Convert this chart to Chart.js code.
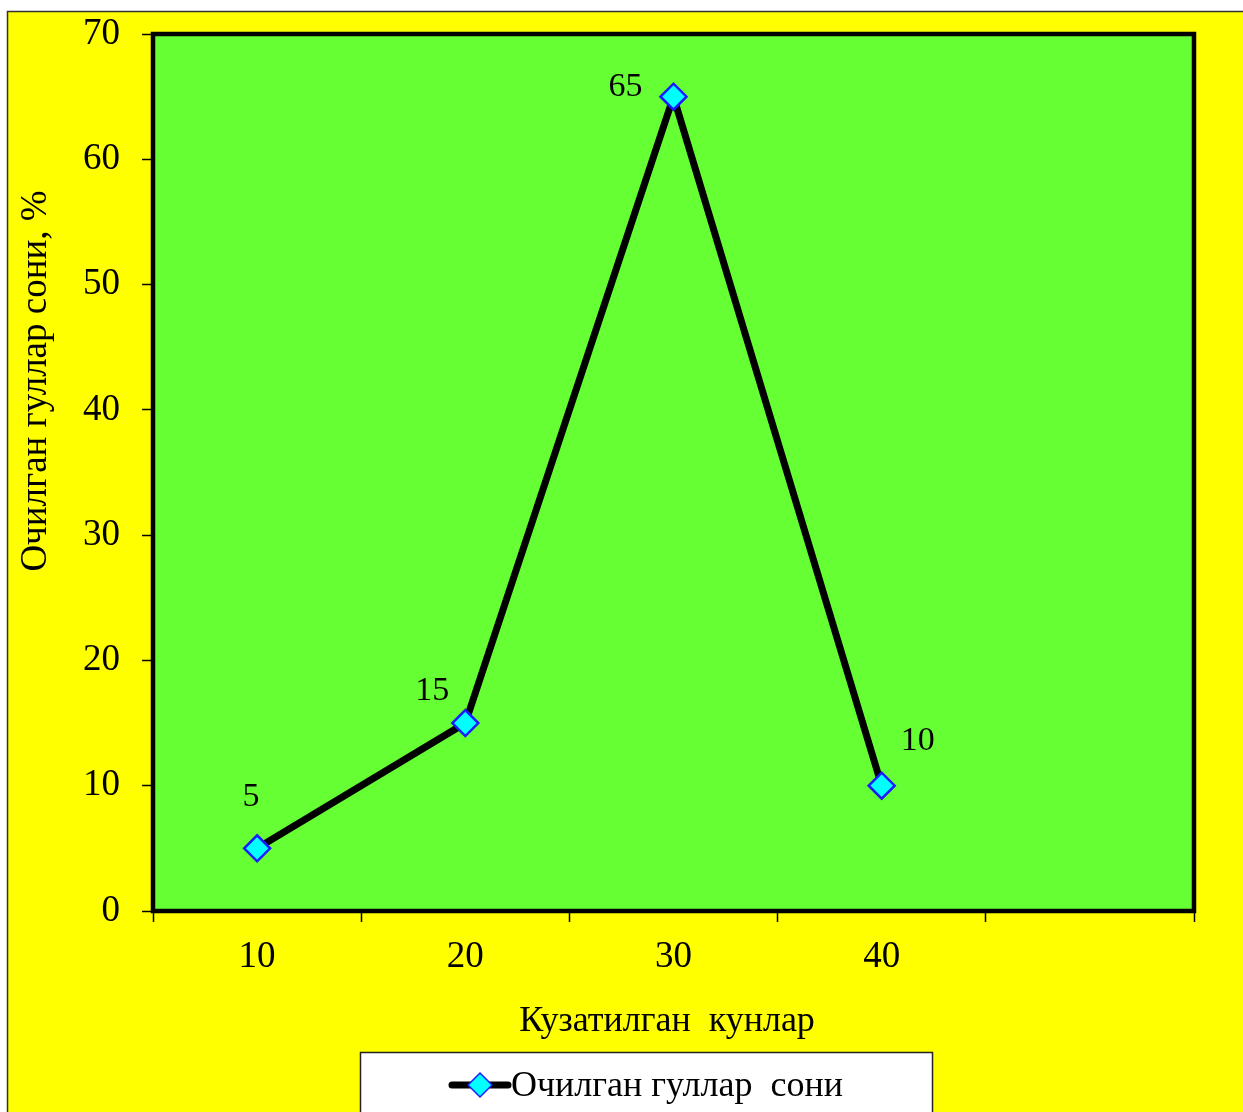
<!DOCTYPE html>
<html>
<head>
<meta charset="utf-8">
<script src="https://cdn.jsdelivr.net/npm/chart.js@4/dist/chart.umd.min.js"></script>
<style>
  html, body { margin: 0; padding: 0; background: #ffffff; }
  canvas { display: block; }
</style>
</head>
<body>
<canvas id="chart" width="1243" height="1112"></canvas>
<script>
// Observation days (the last slot is left empty on purpose)
const days = ['10', '20', '30', '40', ''];
// Share of opened flowers, %
const openedFlowers = [5, 15, 65, 10, null];
const seriesName = 'Очилган гуллар  сони';
const xTitle = 'Кузатилган  кунлар';
const yTitle = 'Очилган гуллар сони, %';
const yTicks = { min: 0, max: 70, step: 10 };

const SERIF = '"Liberation Serif", "Times New Roman", serif';
const YELLOW = '#FFFF00';
const GREEN = '#66FF33';

// where each value label sits relative to its point
const labelOffsets = [[-6, -51], [-33, -32], [-48, -10], [36, -45]];

const backdrop = {
  id: 'backdrop',
  beforeDraw(chart) {
    const { ctx, width, height, chartArea: a } = chart;
    ctx.save();
    ctx.fillStyle = '#ffffff';
    ctx.fillRect(0, 0, width, height);
    ctx.fillStyle = YELLOW;
    ctx.fillRect(7, 11, width - 7, height - 11);
    ctx.strokeStyle = '#333333';
    ctx.lineWidth = 1.5;
    ctx.beginPath();
    ctx.moveTo(7.5, height);
    ctx.lineTo(7.5, 11.5);
    ctx.lineTo(width, 11.5);
    ctx.stroke();
    ctx.fillStyle = GREEN;
    ctx.fillRect(a.left, a.top, a.right - a.left, a.bottom - a.top);
    ctx.restore();
  },
  beforeDatasetsDraw(chart) {
    const { ctx, chartArea: a } = chart;
    ctx.save();
    ctx.strokeStyle = '#000000';
    ctx.lineWidth = 4.5;
    ctx.strokeRect(a.left, a.top, a.right - a.left, a.bottom - a.top);
    ctx.restore();
  }
};

const extras = {
  id: 'extras',
  afterDraw(chart) {
    const { ctx } = chart;
    ctx.save();
    // value labels
    const meta = chart.getDatasetMeta(0);
    ctx.fillStyle = '#000000';
    ctx.font = '34px ' + SERIF;
    ctx.textAlign = 'center';
    ctx.textBaseline = 'middle';
    meta.data.forEach((pt, i) => {
      const v = openedFlowers[i];
      if (v === null || v === undefined) return;
      const [dx, dy] = labelOffsets[i];
      ctx.fillText(String(v), pt.x + dx, pt.y + dy);
    });

    // horizontal axis title
    ctx.font = '36px ' + SERIF;
    ctx.fillText(xTitle, 667, 1022);

    // vertical axis title
    ctx.save();
    ctx.translate(36, 381);
    ctx.rotate(-Math.PI / 2);
    ctx.font = '37px ' + SERIF;
    ctx.fillText(yTitle, 0, 0);
    ctx.restore();

    // legend box
    ctx.fillStyle = '#ffffff';
    ctx.fillRect(360, 1052, 572, 70);
    ctx.strokeStyle = '#222222';
    ctx.lineWidth = 1.5;
    ctx.strokeRect(360.5, 1052.5, 572, 70);
    ctx.strokeStyle = '#000000';
    ctx.lineWidth = 7;
    ctx.lineCap = 'round';
    ctx.beginPath();
    ctx.moveTo(452, 1085);
    ctx.lineTo(508, 1085);
    ctx.stroke();
    ctx.beginPath();
    ctx.moveTo(480, 1073);
    ctx.lineTo(492, 1085);
    ctx.lineTo(480, 1097);
    ctx.lineTo(468, 1085);
    ctx.closePath();
    ctx.fillStyle = '#00FFFF';
    ctx.fill();
    ctx.strokeStyle = '#1A1AFF';
    ctx.lineWidth = 1.5;
    ctx.stroke();
    ctx.fillStyle = '#000000';
    ctx.font = '36px ' + SERIF;
    ctx.textAlign = 'left';
    ctx.textBaseline = 'middle';
    ctx.fillText(seriesName, 511, 1087);
    ctx.restore();
  }
};

new Chart(document.getElementById('chart'), {
  type: 'line',
  data: {
    labels: days,
    datasets: [{
      label: seriesName,
      data: openedFlowers,
      borderColor: '#000000',
      borderWidth: 7,
      tension: 0,
      pointStyle: 'rectRot',
      pointRadius: 13,
      pointHoverRadius: 13,
      pointBackgroundColor: '#00FFFF',
      pointBorderColor: '#1A1AFF',
      pointBorderWidth: 2.5,
      spanGaps: false
    }]
  },
  options: {
    responsive: false,
    animation: false,
    events: [],
    layout: { padding: { left: 0, top: 34, right: 49, bottom: 0 } },
    plugins: {
      legend: { display: false },
      tooltip: { enabled: false }
    },
    scales: {
      x: {
        type: 'category',
        offset: true,
        grid: {
          offset: true,
          drawOnChartArea: false,
          drawTicks: true,
          tickLength: 11,
          tickWidth: 1.5,
          tickColor: '#000000'
        },
        border: { display: false },
        ticks: {
          color: '#000000',
          padding: 13,
          maxRotation: 0,
          autoSkip: false,
          font: { family: SERIF, size: 37, lineHeight: 1.2 }
        },
        afterFit(scale) {
          scale.height = 201;
          scale.paddingLeft = 0;
          scale.paddingRight = 0;
        }
      },
      y: {
        min: yTicks.min,
        max: yTicks.max,
        grid: {
          drawOnChartArea: false,
          drawTicks: true,
          tickLength: 11,
          tickWidth: 1.5,
          tickColor: '#000000'
        },
        border: { display: false },
        ticks: {
          stepSize: yTicks.step,
          color: '#000000',
          padding: 22,
          font: { family: SERIF, size: 37, lineHeight: 1.2 }
        },
        afterFit(scale) {
          scale.width = 153;
          scale.paddingTop = 0;
          scale.paddingBottom = 0;
        }
      }
    }
  },
  plugins: [backdrop, extras]
});
</script>
</body>
</html>
